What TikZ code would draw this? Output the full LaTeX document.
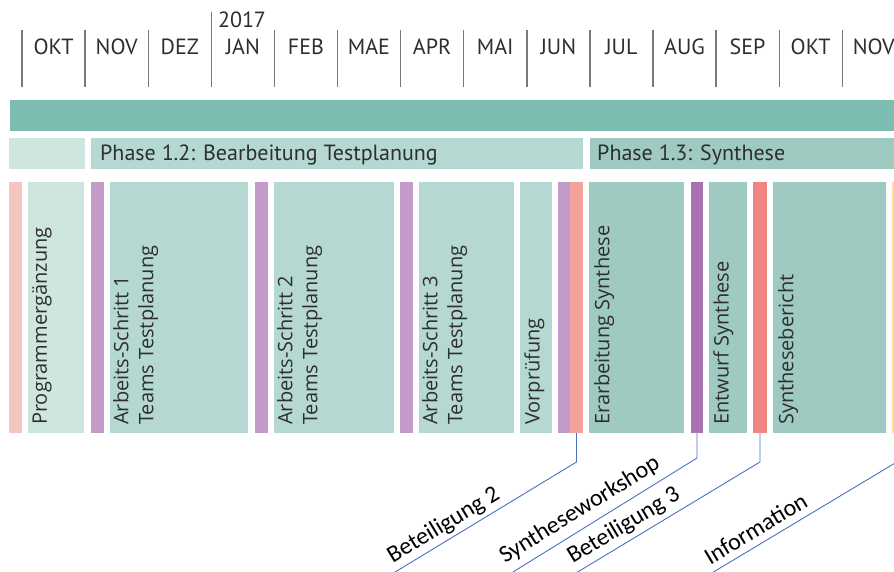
\documentclass[tikz,border=0pt]{standalone}
\usepackage{fontspec}
\setmainfont{Open Sans}
\newfontfamily\hdfont{PT Sans}
\newfontfamily\lblfont{Carlito}
\usetikzlibrary{calc}
\definecolor{txt}{HTML}{2E2E2E}
\definecolor{divc}{HTML}{7A7A7A}
\definecolor{topc}{HTML}{7DBDB1}
\definecolor{boxL}{HTML}{CFE5E0}
\definecolor{boxM}{HTML}{B5D9D2}
\definecolor{boxD}{HTML}{9ECAC2}
\definecolor{pinkL}{HTML}{F5C6C0}
\definecolor{salm}{HTML}{F4A39A}
\definecolor{redc}{HTML}{EE8580}
\definecolor{purL}{HTML}{C39BC9}
\definecolor{purD}{HTML}{AA72B5}
\definecolor{yel}{HTML}{F9E39A}
\definecolor{linkc}{HTML}{4A72C0}
\begin{document}
\begin{tikzpicture}[x=1pt,y=-1pt,
  hd/.style={font=\hdfont\fontsize{22}{26}\selectfont, text=txt, inner sep=0, anchor=base},
  ph/.style={font=\hdfont\fontsize{22}{26}\selectfont, text=txt, inner sep=0, anchor=base west},
  blk/.style={draw=none, inner sep=0, outer sep=0, anchor=north west, minimum height=31},
  bar/.style={draw=none, inner sep=0, outer sep=0, anchor=north west, minimum height=251},
  boxtxt/.style={rotate=90, anchor=north west, inner sep=0, align=left, text=txt,
    font=\fontsize{20}{25}\selectfont},
  div/.style={draw=divc, line width=1.4pt},
  link/.style={draw=linkc, line width=0.9pt},
  lbl/.style={sloped, anchor=south west, inner sep=4pt, text=black,
    font=\lblfont\fontsize{24}{28}\selectfont}]
\useasboundingbox (0,0) rectangle (894,572);
\clip (0,0) rectangle (894,572);
\fill[white] (0,0) rectangle (894,572);

% months
\foreach \i in {0,...,13} {
  \ifnum\i=3
    \draw[div] (22+63.1*\i,12) -- (22+63.1*\i,87);
  \else
    \draw[div] (22+63.1*\i,30) -- (22+63.1*\i,87);
  \fi
}
\foreach \m [count=\i from 0] in {OKT,NOV,DEZ,JAN,FEB,MAE,APR,MAI,JUN,JUL,AUG,SEP,OKT,NOV}
  \node[hd] (m\i) at (53.5+63.1*\i,55) {\m};
\node[hd] (yr) at (242,28) {2017};

% top bar and phases
\node[blk, fill=topc, minimum width=900] (top) at (10,100) {};
\node[blk, fill=boxL, minimum width=76] (ph0) at (9,138) {};
\node[blk, fill=boxM, minimum width=492] (ph12) at (91,138) {};
\node[blk, fill=boxD, minimum width=320] (ph13) at (590,138) {};
\node[ph] (t12) at (100,161) {Phase 1.2: Bearbeitung Testplanung};
\node[ph] (t13) at (597,161) {Phase 1.3: Synthese};

% bars
\node[bar, fill=pinkL, minimum width=13] (pk0) at (9,182) {};
\node[bar, fill=boxL, minimum width=56] (prog) at (28,182) {};
\node[bar, fill=purL, minimum width=13] (pu1) at (91,182) {};
\node[bar, fill=boxM, minimum width=138] (as1) at (110,182) {};
\node[bar, fill=purL, minimum width=13] (pu2) at (255,182) {};
\node[bar, fill=boxM, minimum width=120] (as2) at (274,182) {};
\node[bar, fill=purL, minimum width=13] (pu3) at (400,182) {};
\node[bar, fill=boxM, minimum width=95] (as3) at (419,182) {};
\node[bar, fill=boxM, minimum width=32] (vor) at (520,182) {};
\node[bar, fill=purL, minimum width=12] (pu4) at (558,182) {};
\node[bar, fill=salm, minimum width=13] (sa) at (570,182) {};
\node[bar, fill=boxD, minimum width=95] (er) at (589,182) {};
\node[bar, fill=purD, minimum width=12] (pu5) at (691,182) {};
\node[bar, fill=boxD, minimum width=38] (ent) at (709,182) {};
\node[bar, fill=redc, minimum width=14] (rd) at (753,182) {};
\node[bar, fill=boxD, minimum width=113] (syb) at (773,182) {};
\node[bar, fill=yel, minimum width=13] (ye) at (892,182) {};

% box texts
\node[boxtxt] (tprog) at ($(prog.south west)+(4,-8)$) {Programmergänzung};
\node[boxtxt] (tas1) at ($(as1.south west)+(3,-8)$) {Arbeits-Schritt 1\\Teams Testplanung};
\node[boxtxt] (tas2) at ($(as2.south west)+(3,-8)$) {Arbeits-Schritt 2\\Teams Testplanung};
\node[boxtxt] (tas3) at ($(as3.south west)+(3,-8)$) {Arbeits-Schritt 3\\Teams Testplanung};
\node[boxtxt] (tvor) at ($(vor.south west)+(4,-8)$) {Vorprüfung};
\node[boxtxt] (ter) at ($(er.south west)+(5,-8)$) {Erarbeitung Synthese};
\node[boxtxt] (tent) at ($(ent.south west)+(4,-8)$) {Entwurf Synthese};
\node[boxtxt] (tsyb) at ($(syb.south west)+(5,-8)$) {Synthesebericht};

% callouts
\coordinate (k1) at ($(sa.south)+(0,29)$);
\coordinate (e1) at ($(k1)+(-183,111)$);
\draw[link] (sa.south) -- (k1) -- (e1);
\path (e1) -- (k1) node[pos=0, lbl] (l1) {Beteiligung 2};

\coordinate (k2) at ($(pu5.south)+(0,25)$);
\coordinate (e2) at ($(k2)+(-184,114)$);
\draw[link] (pu5.south) -- (k2) -- (e2);
\path (e2) -- (k2) node[pos=-0.045, lbl, inner sep=7pt] (l2) {Syntheseworkshop};

\coordinate (k3) at ($(rd.south)+(0,29)$);
\coordinate (e3) at ($(k3)+(-184,111)$);
\draw[link] (rd.south) -- (k3) -- (e3);
\path (e3) -- (k3) node[pos=-0.015, lbl, inner sep=5pt] (l3) {Beteiligung 3};

\coordinate (k4) at ($(ye.south)+(0,28)$);
\coordinate (e4) at ($(k4)+(-185,111)$);
\draw[link] (ye.south) -- (k4) -- (e4);
\path (e4) -- (k4) node[pos=-0.03, lbl, inner sep=7pt] (l4) {Information};
\end{tikzpicture}
\end{document}
